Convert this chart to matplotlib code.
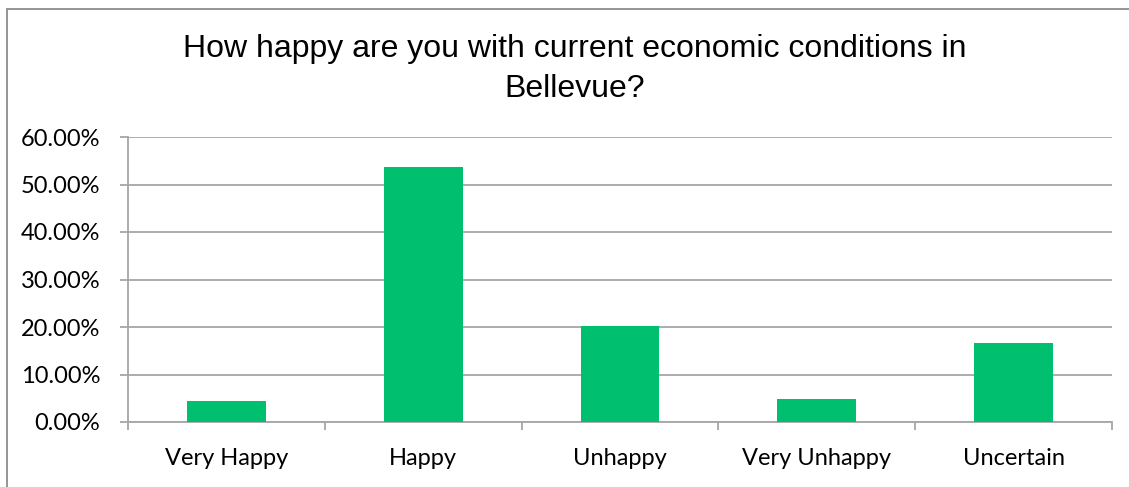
import matplotlib
matplotlib.use("Agg")
import matplotlib.pyplot as plt
from matplotlib.patches import Rectangle
from matplotlib.ticker import MultipleLocator, FuncFormatter, FixedLocator

categories = ["Very Happy", "Happy", "Unhappy", "Very Unhappy", "Uncertain"]
values = [4.45, 53.76, 20.15, 4.75, 16.64]
title = "How happy are you with current economic conditions in\nBellevue?"

W, H = 1129, 487
fig = plt.figure(figsize=(W / 100, H / 100), dpi=100)
fig.patch.set_facecolor("white")

# outer chart border (left and top edges visible)
fig.patches.append(Rectangle((7 / W, -0.1), 1.2, (H - 9) / H + 0.1,
                             transform=fig.transFigure, fill=False,
                             edgecolor="#8C8C8C", linewidth=1.3))

x0, x1 = 128, 1112
y0, y1 = 422, 137
ax = fig.add_axes([x0 / W, 1 - y0 / H, (x1 - x0) / W, (y0 - y1) / H])

grid_c = "#A6A6A6"
ax.bar(range(len(categories)), values, width=0.4, color="#00BF6F", zorder=3)
ax.set_xlim(-0.5, len(categories) - 0.5)
ax.set_ylim(0, 60)
ax.yaxis.set_major_locator(MultipleLocator(10))
ax.yaxis.set_major_formatter(FuncFormatter(lambda v, p: f"{v:.2f}%"))
ax.grid(axis="y", color=grid_c, linewidth=1.3, zorder=0)
ax.set_axisbelow(True)

for s in ["top", "right"]:
    ax.spines[s].set_visible(False)
ax.spines["left"].set_color(grid_c)
ax.spines["bottom"].set_color(grid_c)
ax.spines["left"].set_linewidth(1.3)
ax.spines["bottom"].set_linewidth(1.3)

ax.set_xticks(range(len(categories)))
ax.set_xticklabels(categories)
ax.xaxis.set_minor_locator(FixedLocator([i - 0.5 for i in range(len(categories) + 1)]))
ax.tick_params(axis="x", which="major", length=0, pad=19,
               labelsize=17, labelcolor="black")
ax.tick_params(axis="x", which="minor", length=6, color=grid_c, width=1.3)
ax.tick_params(axis="y", which="major", length=6, color=grid_c, width=1.3,
               pad=14, labelsize=17, labelcolor="black")
for lab in ax.get_xticklabels() + ax.get_yticklabels():
    lab.set_family(["Lato", "DejaVu Sans"])

fig.text(575 / W, 1 - 69 / H, title, ha="center", va="center",
         fontsize=23, family=["Liberation Sans", "DejaVu Sans"],
         linespacing=1.4)

fig.savefig("out.png", dpi=100)
